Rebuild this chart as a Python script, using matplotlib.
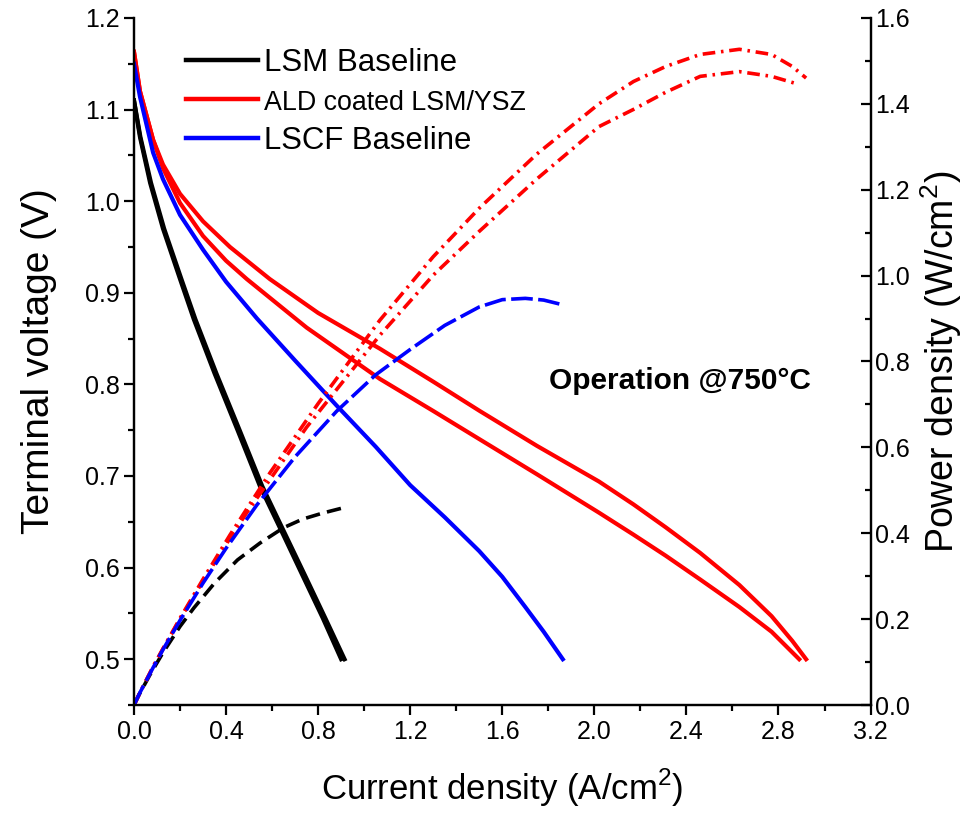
import matplotlib.pyplot as plt
from matplotlib.ticker import MultipleLocator, FormatStrFormatter

plt.rcParams['font.family'] = ['Liberation Sans', 'DejaVu Sans']
plt.rcParams['mathtext.fontset'] = 'custom'
plt.rcParams['mathtext.rm'] = 'Liberation Sans'

# LSM baseline (two nearly identical sweeps)
lsm_i1 = [0, 0.026, 0.07, 0.126, 0.2, 0.26, 0.35, 0.45, 0.547, 0.65, 0.733, 0.82, 0.90]
lsm_v1 = [1.11, 1.07, 1.02, 0.97, 0.915, 0.871, 0.812, 0.75, 0.689, 0.635, 0.591, 0.545, 0.50]
lsm_i2 = [0, 0.028, 0.074, 0.131, 0.206, 0.267, 0.358, 0.459, 0.557, 0.66, 0.744, 0.831, 0.915]
lsm_v2 = [1.11, 1.07, 1.02, 0.97, 0.915, 0.871, 0.812, 0.75, 0.689, 0.635, 0.591, 0.545, 0.50]
lsm_p = [0, 0.028, 0.071, 0.122, 0.183, 0.226, 0.284, 0.338, 0.377, 0.413, 0.433, 0.447, 0.458]

# ALD coated LSM/YSZ (two sweeps)
ald_i1 = [0, 0.026, 0.083, 0.126, 0.2, 0.3, 0.417, 0.59, 0.8, 1.068, 1.3, 1.502,
          1.75, 2.02, 2.17, 2.31, 2.46, 2.63, 2.77, 2.86, 2.92]
ald_v1 = [1.163, 1.12, 1.067, 1.04, 1.008, 0.978, 0.95, 0.915, 0.878, 0.839,
          0.803, 0.771, 0.733, 0.694, 0.669, 0.644, 0.616, 0.581, 0.547, 0.52, 0.50]
ald_p1 = [0, 0.029, 0.089, 0.131, 0.202, 0.293, 0.396, 0.540, 0.702, 0.896,
          1.044, 1.158, 1.283, 1.400, 1.452, 1.487, 1.515, 1.527, 1.515, 1.487, 1.46]
ald_i2 = [0, 0.026, 0.083, 0.126, 0.2, 0.3, 0.4, 0.49, 0.75, 1.068, 1.3, 1.502,
          1.75, 2.02, 2.17, 2.31, 2.46, 2.63, 2.77, 2.89]
ald_v2 = [1.163, 1.12, 1.067, 1.036, 0.998, 0.962, 0.935, 0.915, 0.862, 0.806,
          0.771, 0.740, 0.702, 0.660, 0.636, 0.613, 0.587, 0.557, 0.530, 0.50]
ald_p2 = [0, 0.029, 0.089, 0.131, 0.200, 0.289, 0.374, 0.448, 0.647, 0.861,
          1.001, 1.104, 1.225, 1.347, 1.387, 1.427, 1.464, 1.475, 1.464, 1.445]

# LSCF baseline
lscf_i = [0, 0.026, 0.083, 0.126, 0.2, 0.3, 0.4, 0.534, 0.7, 0.88, 1.05, 1.2,
          1.35, 1.5, 1.6, 1.7, 1.78, 1.863]
lscf_v = [1.15, 1.114, 1.053, 1.024, 0.985, 0.947, 0.912, 0.872, 0.826, 0.777,
          0.732, 0.69, 0.655, 0.618, 0.59, 0.557, 0.53, 0.50]
lscf_p = [0, 0.029, 0.087, 0.129, 0.197, 0.284, 0.365, 0.466, 0.578, 0.684,
          0.769, 0.828, 0.884, 0.927, 0.944, 0.947, 0.943, 0.932]

fig = plt.figure(figsize=(9.66, 8.16), dpi=100)
ax = fig.add_axes([0.1387, 0.136, 0.7625, 0.842])
ax2 = ax.twinx()

lw = 3
ax.plot(lsm_i1, lsm_v1, color='black', lw=lw, label='LSM Baseline')
ax.plot(lsm_i2, lsm_v2, color='black', lw=lw)
ax.plot(ald_i1, ald_v1, color='red', lw=lw, label='ALD coated LSM/YSZ')
ax.plot(ald_i2, ald_v2, color='red', lw=lw)
ax.plot(lscf_i, lscf_v, color='blue', lw=lw, label='LSCF Baseline')

ax2.plot(lsm_i1, lsm_p, color='black', lw=2.6, ls=(0, (4, 2)))
ax2.plot(ald_i1, ald_p1, color='red', lw=2.6, ls=(0, (3.5, 1.6, 0.7, 1.6)))
ax2.plot(ald_i2, ald_p2, color='red', lw=2.6, ls=(0, (3.5, 1.6, 0.7, 1.6)))
ax2.plot(lscf_i, lscf_p, color='blue', lw=2.6, ls=(0, (6, 1.5)))

ax.set_xlim(0, 3.2)
ax.set_ylim(0.45, 1.2)
ax2.set_ylim(0, 1.6)

ax.xaxis.set_major_locator(MultipleLocator(0.4))
ax.xaxis.set_minor_locator(MultipleLocator(0.2))
ax.yaxis.set_major_locator(MultipleLocator(0.1))
ax.yaxis.set_minor_locator(MultipleLocator(0.05))
ax2.yaxis.set_major_locator(MultipleLocator(0.2))
ax2.yaxis.set_minor_locator(MultipleLocator(0.1))
ax.xaxis.set_major_formatter(FormatStrFormatter('%.1f'))
ax.yaxis.set_major_formatter(FormatStrFormatter('%.1f'))
ax2.yaxis.set_major_formatter(FormatStrFormatter('%.1f'))

for a in (ax, ax2):
    a.spines['top'].set_visible(False)
    for s in a.spines.values():
        s.set_linewidth(1.6)

ax.tick_params(axis='both', which='major', direction='out', length=7, width=1.6,
               labelsize=18)
ax.tick_params(axis='both', which='minor', direction='out', length=4, width=1.6)
ax.tick_params(axis='y', right=False)
ax2.tick_params(axis='y', which='major', direction='in', length=7, width=1.6,
                labelsize=18)
ax2.tick_params(axis='y', which='minor', direction='in', length=4, width=1.6)

narrow = ['Liberation Sans Narrow', 'Liberation Sans']
for t in ax.get_xticklabels():
    t.set_family(narrow)
    t.set_fontsize(18)

ax.set_xlabel('Current density (A/cm$^2$)', fontsize=25, family=narrow, labelpad=17)
ax.set_ylabel('Terminal voltage (V)', fontsize=28, labelpad=20)
ax2.set_ylabel('Power density (W/cm$^2$)', fontsize=27, labelpad=6)

ax.text(0.741, 0.472, 'Operation @750°C', transform=ax.transAxes,
        ha='center', va='center', fontsize=21.5, fontweight='bold')

leg = ax.legend(loc='upper left', bbox_to_anchor=(0.07, 0.956), frameon=False,
                fontsize=22, handlelength=2.36, handletextpad=0.2,
                labelspacing=0.33, borderaxespad=0, borderpad=0)
for h in leg.get_lines():
    h.set_linewidth(3.2)
for t, fs in zip(leg.get_texts(), [22.5, 19.3, 22.4]):
    t.set_fontsize(fs)

fig.savefig('out.png', dpi=100)
